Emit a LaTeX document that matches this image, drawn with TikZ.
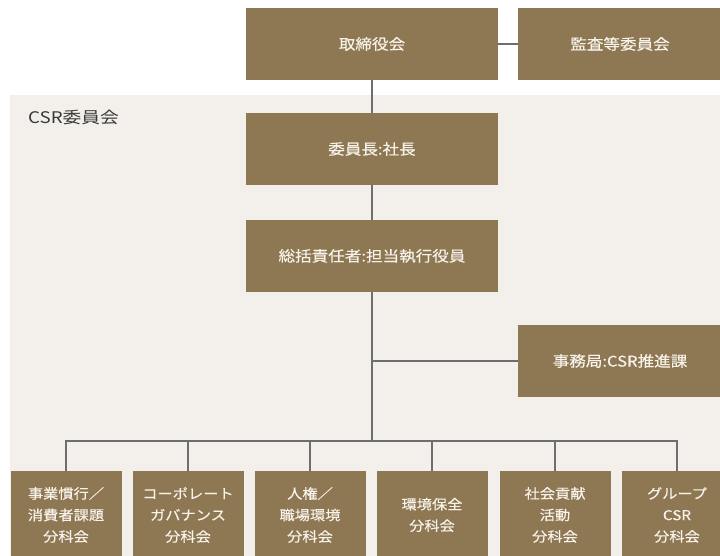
\documentclass[tikz,border=0pt]{standalone}
\usepackage{fontspec}
\setmainfont{Noto Sans CJK JP}
\newfontfamily\widejp[FakeStretch=1.12,FakeBold=0.35]{Noto Sans CJK JP}
\newfontfamily\widerjp[FakeStretch=1.17]{Noto Sans CJK JP}
\definecolor{boxbrown}{HTML}{8E7853}
\definecolor{panel}{HTML}{F3F0EB}
\definecolor{linegray}{HTML}{6E6E6E}
\definecolor{boxtext}{HTML}{F7F2EA}
\begin{document}
\begin{tikzpicture}[x=1pt,y=-1pt,
  orgbox/.style={draw=none,fill=boxbrown,text=boxtext,minimum width=252pt,minimum height=72pt,inner sep=0pt,font=\widejp\fontsize{14.8}{18}\selectfont},
  sidebox/.style={orgbox,minimum width=204pt},
  subbox/.style={draw=none,fill=boxbrown,text=boxtext,minimum width=111pt,minimum height=88pt,inner sep=0pt,align=center,font=\widejp\fontsize{13.6}{21.5}\selectfont},
  conn/.style={draw=linegray,line width=1.6pt}]
\useasboundingbox (0,0) rectangle (720,556);
\fill[white] (0,0) rectangle (720,556);
\fill[panel] (10,95) rectangle (720,556);
\node[anchor=west,inner sep=0pt,font=\widerjp\fontsize{16}{20}\selectfont,text=black!78] (csr) at (28,117) {CSR委員会};

\node[orgbox] (board) at (372,44) {取締役会};
\node[sidebox] (audit) at (620,44) {監査等委員会};
\node[orgbox] (chair) at (372,149) {委員長:社長};
\node[orgbox] (chief) at (372,256) {総括責任者:担当執行役員};
\node[sidebox] (office) at (620,361) {事務局:CSR推進課};

\node[subbox] (s1) at (66,515) {事業慣行／\\消費者課題\\分科会};
\node[subbox] (s2) at (188,515) {コーポレート\\ガバナンス\\分科会};
\node[subbox] (s3) at (310,515) {人権／\\職場環境\\分科会};
\node[subbox] (s4) at (432,515) {環境保全\\分科会};
\node[subbox] (s5) at (555,515) {社会貢献\\活動\\分科会};
\node[subbox] (s6) at (677,515) {グループ\\CSR\\分科会};

\coordinate (bus) at (372,441);

\draw[conn] (board.east) -- (audit.west);
\draw[conn] (board.south) -- (chair.north);
\draw[conn] (chair.south) -- (chief.north);
\draw[conn] (chief.south) -- (bus);
\draw[conn] (office.west) -- (office.west -| chief.south);
\draw[conn] (s1.north) |- (bus);
\draw[conn] (s6.north) |- (bus);
\foreach \n in {s2,s3,s4,s5} \draw[conn] (\n.north) -- (\n.north |- bus);
\end{tikzpicture}
\end{document}
